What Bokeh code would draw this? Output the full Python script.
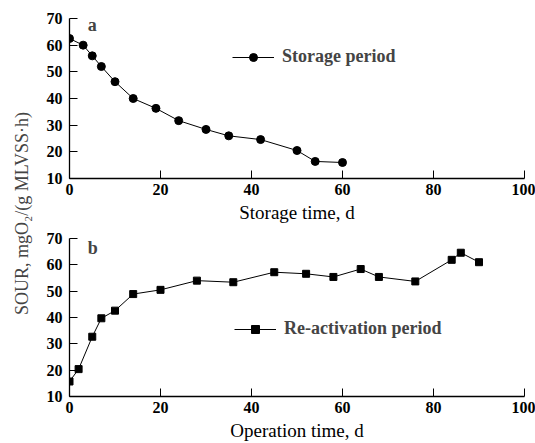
import math
from bokeh.plotting import figure
from bokeh.models import Range1d, Label, Legend, LegendItem, FixedTicker
from bokeh.layouts import row, column
from bokeh.embed import file_html
from bokeh.resources import INLINE

# Panel a: storage period
storage_days = [0, 3, 5, 7, 10, 14, 19, 24, 30, 35, 42, 50, 54, 60]
storage_sour = [62.5, 60, 56, 52, 46.3, 40, 36.3, 31.7, 28.4, 26, 24.6, 20.5, 16.4, 16]

# Panel b: re-activation period
operation_days = [0, 2, 5, 7, 10, 14, 20, 28, 36, 45, 52, 58, 64, 68, 76, 84, 86, 90]
operation_sour = [15.7, 20.4, 32.7, 39.7, 42.6, 48.9, 50.5, 54, 53.4, 57.2, 56.6, 55.4, 58.4, 55.4, 53.7, 61.9, 64.6, 61]

x_ticks = [0, 20, 40, 60, 80, 100]
y_ticks = [10, 20, 30, 40, 50, 60, 70]

FONT = "Liberation Serif"
LABEL_W = 36
PANEL_W = 499


def make_panel(height, top, bottom, xlabel):
    p = figure(width=PANEL_W, height=height, output_backend="svg", toolbar_location=None,
               x_range=Range1d(0, 100), y_range=Range1d(10, 70),
               min_border_left=33, min_border_right=11,
               min_border_top=top, min_border_bottom=bottom)
    p.outline_line_color = None
    p.grid.visible = False
    p.background_fill_color = "white"
    p.border_fill_color = "white"
    for ax in (p.xaxis[0], p.yaxis[0]):
        ax.axis_line_color = "black"
        ax.axis_line_width = 1.3
        ax.major_tick_in = 8
        ax.major_tick_out = 0
        ax.major_tick_line_color = "black"
        ax.minor_tick_line_color = None
        ax.major_label_text_font = FONT
        ax.major_label_text_font_size = "16px"
        ax.major_label_text_font_style = "bold"
        ax.major_label_text_color = "black"
        ax.axis_label_text_font = FONT
        ax.axis_label_text_font_style = "normal"
        ax.axis_label_text_color = "black"
    p.xaxis.ticker = FixedTicker(ticks=x_ticks)
    p.yaxis.ticker = FixedTicker(ticks=y_ticks)
    p.xaxis.major_label_standoff = 5
    p.yaxis.major_label_standoff = 7
    p.xaxis.axis_label = xlabel
    p.xaxis.axis_label_text_font_size = "19px"
    p.xaxis.axis_label_standoff = 4
    return p


pa = make_panel(225, 18, 47, "Storage time, d")
la = pa.line(storage_days, storage_sour, line_color="black", line_width=1)
sa = pa.scatter(storage_days, storage_sour, marker="circle", size=8,
                fill_color="black", line_color="black")
pa.add_layout(Label(x=4, y=67.5, text="a", text_font=FONT, text_font_size="18px",
                    text_font_style="bold", text_baseline="middle"))
leg_a = Legend(items=[LegendItem(label="Storage period", renderers=[la, sa])],
               location=(163, 111), glyph_width=42, glyph_height=20,
               label_text_font=FONT, label_text_font_size="18px",
               label_text_font_style="bold", label_standoff=8,
               padding=0, margin=0, border_line_color=None,
               background_fill_alpha=0)
pa.add_layout(leg_a)

pb = make_panel(218, 13, 45, "Operation time, d")
lb = pb.line(operation_days, operation_sour, line_color="black", line_width=1)
sb = pb.scatter(operation_days, operation_sour, marker="square", size=7,
                fill_color="black", line_color="black")
pb.add_layout(Label(x=4, y=66.5, text="b", text_font=FONT, text_font_size="18px",
                    text_font_style="bold", text_baseline="middle"))
leg_b = Legend(items=[LegendItem(label="Re-activation period", renderers=[lb, sb])],
               location=(165, 57), glyph_width=42, glyph_height=20,
               label_text_font=FONT, label_text_font_size="18px",
               label_text_font_style="bold", label_standoff=8,
               padding=0, margin=0, border_line_color=None,
               background_fill_alpha=0)
pb.add_layout(leg_b)

# Shared y-axis title
pl = figure(width=LABEL_W, height=443, output_backend="svg", toolbar_location=None,
            x_range=Range1d(0, 1), y_range=Range1d(0, 1),
            x_axis_location=None, y_axis_location=None, min_border=0)
pl.outline_line_color = None
pl.grid.visible = False
pl.add_layout(Label(x=21, y=230, x_units="screen", y_units="screen",
                    text="SOUR, mgO\u2082/(g MLVSS\u00b7h)", angle=math.pi / 2,
                    text_font=FONT, text_font_size="18px",
                    text_align="center", text_baseline="middle"))

layout = row(pl, column(pa, pb, spacing=0), spacing=0)

open("out.html", "w").write(file_html(layout, INLINE))
